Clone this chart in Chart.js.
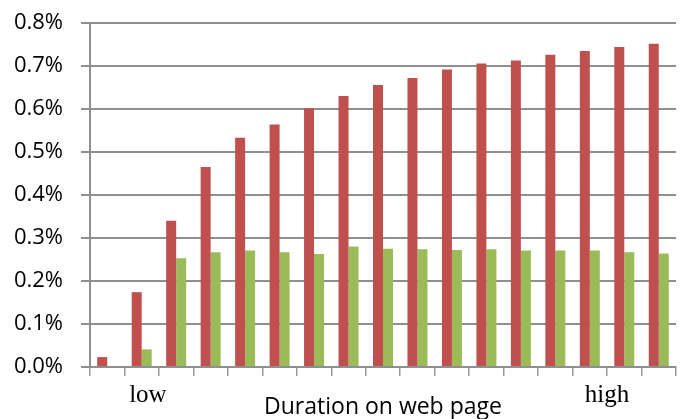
<!DOCTYPE html>
<html>
<head>
<meta charset="utf-8">
<script src="https://cdn.jsdelivr.net/npm/chart.js@4.4.1/dist/chart.umd.min.js"></script>
<style>
    html, body { margin: 0; padding: 0; background: #fff; }
    #wrap { width: 684px; height: 419px; }
</style>
</head>
<body>
<div id="wrap"><canvas id="durationChart"></canvas></div>
<script>
// 17 duration buckets, low -> high
const categories = ['1', '2', '3', '4', '5', '6', '7', '8', '9', '10', '11', '12', '13', '14', '15', '16', '17'];

// percent values
const redSeries = [0.023, 0.174, 0.340, 0.465, 0.533, 0.564, 0.602, 0.630, 0.656, 0.672, 0.692, 0.706, 0.713, 0.726, 0.735, 0.744, 0.752];
const greenSeries = [0, 0.041, 0.253, 0.267, 0.271, 0.267, 0.263, 0.280, 0.275, 0.274, 0.272, 0.274, 0.271, 0.271, 0.271, 0.267, 0.264];

const yTicks = [0, 0.1, 0.2, 0.3, 0.4, 0.5, 0.6, 0.7, 0.8];

// end labels under the category axis (position in category units)
const endLabels = ['low', 'high'];
const endLabelAt = [1.18, 14.5];

const axisTitle = 'Duration on web page';

(function () {
    const gridColor = '#8f8f8f';

    const endLabelPlugin = {
        id: 'endLabels',
        afterDraw(chart) {
            const xScale = chart.scales.x;
            const ctx = chart.ctx;
            ctx.save();
            ctx.font = '25px "Liberation Serif", "Times New Roman", serif';
            ctx.fillStyle = '#000';
            ctx.textAlign = 'center';
            ctx.textBaseline = 'alphabetic';
            endLabels.forEach((text, i) => {
                const x = xScale.getPixelForValue(endLabelAt[i]);
                ctx.fillText(text, x, xScale.top + 35);
            });
            ctx.restore();
        },
    };

    const ctx = document.getElementById('durationChart').getContext('2d');

    new Chart(ctx, {
        type: 'bar',
        data: {
            labels: categories,
            datasets: [
                {
                    label: 'A',
                    data: redSeries,
                    backgroundColor: '#c0504d',
                    borderWidth: 0,
                    categoryPercentage: 0.58,
                    barPercentage: 1,
                },
                {
                    label: 'B',
                    data: greenSeries,
                    backgroundColor: '#9bbb59',
                    borderWidth: 0,
                    categoryPercentage: 0.58,
                    barPercentage: 1,
                },
            ],
        },
        options: {
            responsive: true,
            maintainAspectRatio: false,
            animation: false,
            layout: {
                padding: { top: 23, right: 8, left: 0, bottom: 0 },
            },
            plugins: {
                legend: { display: false },
                tooltip: { enabled: false },
            },
            scales: {
                x: {
                    grid: {
                        display: true,
                        offset: true,
                        drawOnChartArea: false,
                        drawTicks: true,
                        tickLength: 9,
                        color: '#999',
                        lineWidth: 1.5,
                    },
                    border: { display: true, color: gridColor, width: 2 },
                    ticks: { display: false },
                    title: {
                        display: true,
                        text: axisTitle,
                        color: '#000',
                        font: { family: '"Open Sans", sans-serif', size: 23, lineHeight: 1 },
                        padding: { top: 0, bottom: 0 },
                    },
                    afterFit(scale) {
                        scale.height = 52;
                        scale.paddingLeft = 0;
                        scale.paddingRight = 0;
                    },
                },
                y: {
                    min: 0,
                    max: 0.8,
                    afterBuildTicks(scale) {
                        scale.ticks = yTicks.map((v) => ({ value: v }));
                    },
                    grid: {
                        color: gridColor,
                        lineWidth: 2,
                        drawTicks: true,
                        tickLength: 9,
                    },
                    border: { display: true, color: gridColor, width: 2 },
                    ticks: {
                        color: '#000',
                        padding: 18,
                        font: { family: '"Open Sans", sans-serif', size: 22 },
                        callback: (v) => Number(v).toFixed(1) + '%',
                    },
                    afterFit(scale) {
                        scale.width = 90;
                        scale.paddingTop = 0;
                        scale.paddingBottom = 0;
                    },
                },
            },
        },
        plugins: [endLabelPlugin],
    });
})();
</script>
</body>
</html>
